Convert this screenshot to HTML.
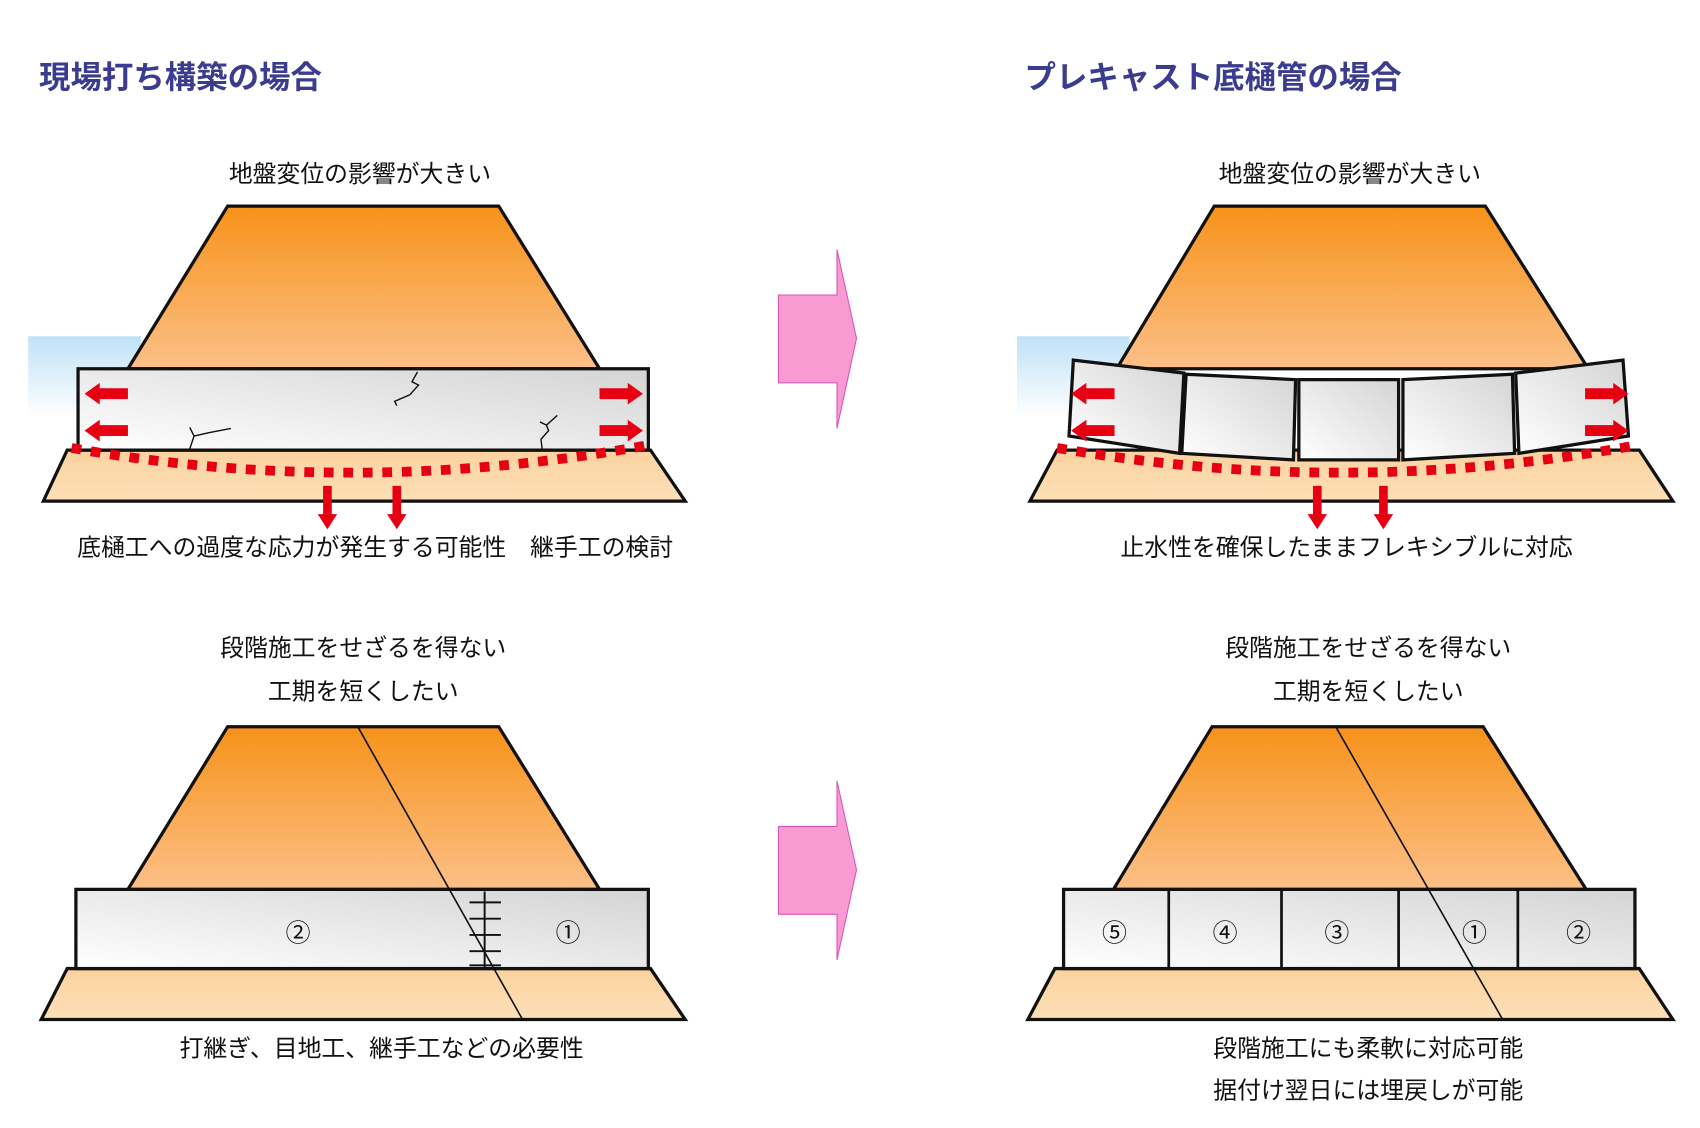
<!DOCTYPE html>
<html><head><meta charset="utf-8"><style>
html,body{margin:0;padding:0;background:#fff;}
svg{display:block;}
text{font-family:"Liberation Sans","Noto Sans CJK JP",sans-serif;}
</style></head><body>
<svg width="1700" height="1128" viewBox="0 0 1568 1040" preserveAspectRatio="none" xmlns="http://www.w3.org/2000/svg">
<defs>
<linearGradient id="or" x1="0" y1="0" x2="0" y2="1"><stop offset="0" stop-color="#f7921a"/><stop offset="1" stop-color="#fcc088"/></linearGradient>
<linearGradient id="bs" x1="0" y1="0" x2="0" y2="1"><stop offset="0" stop-color="#fbd29e"/><stop offset="1" stop-color="#fde0b8"/></linearGradient>
<linearGradient id="bx" x1="0" y1="1" x2="1" y2="0"><stop offset="0" stop-color="#ffffff"/><stop offset="1" stop-color="#d4d4d4"/></linearGradient>
<linearGradient id="wt" x1="0" y1="0" x2="0" y2="1"><stop offset="0" stop-color="#bfe2f8"/><stop offset="1" stop-color="#ffffff"/></linearGradient>
<g id="ra"><polygon points="0,-5 -26,-5 -26,-10 -40,0 -26,10 -26,5 0,5" fill="#e60012"/></g>
<g id="da"><polygon points="-4,0 4,0 4,26 9,26 0,40 -9,26 -4,26" fill="#e60012"/></g>
<g id="pa"><polygon points="718,272 772,272 772,230 790,312 772,395 772,353 718,353" fill="#f99ad3" stroke="#d855b8" stroke-width="1"/></g>
</defs>

<g font-weight="bold" font-size="29" fill="#3b3b8f">
<text x="36" y="81">現場打ち構築の場合</text>
<text x="945" y="81">プレキャスト底樋管の場合</text>
</g>

<g font-size="22" fill="#111" text-anchor="middle">
<text x="332" y="168">地盤変位の影響が大きい</text>
<text x="1245" y="168">地盤変位の影響が大きい</text>
<text x="346" y="512">底樋工への過度な応力が発生する可能性　継手工の検討</text>
<text x="1242" y="512">止水性を確保したままフレキシブルに対応</text>
<text x="335" y="605">段階施工をせざるを得ない</text>
<text x="335" y="645">工期を短くしたい</text>
<text x="1262" y="605">段階施工をせざるを得ない</text>
<text x="1262" y="645">工期を短くしたい</text>
<text x="352" y="974">打継ぎ、目地工、継手工などの必要性</text>
<text x="1262" y="974">段階施工にも柔軟に対応可能</text>
<text x="1262" y="1013">据付け翌日には埋戻しが可能</text>
</g>

<!-- top left -->
<rect x="26" y="310" width="104" height="75" fill="url(#wt)"/>
<polygon points="210,190 460,190 553,340 118,340" fill="url(#or)" stroke="#111" stroke-width="3"/>
<polygon points="62,415 600,415 632,462 40,462" fill="url(#bs)" stroke="#111" stroke-width="3"/>
<rect x="72" y="340" width="526" height="75" fill="url(#bx)" stroke="#111" stroke-width="3"/>
<g fill="none" stroke="#111" stroke-width="1.3">
<path d="M385,343 L380,352 L386,355 L378,364 L364,370 L366,374"/>
<path d="M175,414 L179,402 L175,394 M179,402 L192,399 L213,395"/>
<path d="M500,414 L499,405 L506,397 L504,392 L514,383 M504,392 L498,389"/>
</g>
<path d="M66,413 Q330,460 600,410" fill="none" stroke="#e60012" stroke-width="9" stroke-dasharray="9,9"/>
<use href="#ra" x="118" y="363"/><use href="#ra" x="118" y="397"/>
<use href="#ra" transform="translate(553,363) scale(-1,1)"/><use href="#ra" transform="translate(553,397) scale(-1,1)"/>
<use href="#da" x="302" y="448"/><use href="#da" x="366" y="448"/>

<use href="#pa"/>
<use href="#pa" y="490"/>

<!-- top right -->
<rect x="938" y="310" width="104" height="75" fill="url(#wt)"/>
<polygon points="1120,190 1370,190 1465,340 1030,340" fill="url(#or)" stroke="#111" stroke-width="3"/>
<polygon points="975,415 1512,415 1543,462 950,462" fill="url(#bs)" stroke="#111" stroke-width="3"/>
<g fill="url(#bx)" stroke="#111" stroke-width="3">
<polygon points="990,332 1092,344 1088,418 986,402"/>
<polygon points="1094,345 1195,350 1193,424 1090,418"/>
<polygon points="1198,350 1290,350 1290,424 1198,424"/>
<polygon points="1294,350 1395,345 1397,418 1294,424"/>
<polygon points="1398,344 1497,332 1502,402 1401,418"/>
</g>
<path d="M975,413 Q1245,460 1512,410" fill="none" stroke="#e60012" stroke-width="9" stroke-dasharray="9,9"/>
<use href="#ra" x="1028" y="363"/><use href="#ra" x="1028" y="397"/>
<use href="#ra" transform="translate(1462,363) scale(-1,1)"/><use href="#ra" transform="translate(1462,397) scale(-1,1)"/>
<use href="#da" x="1215" y="448"/><use href="#da" x="1276" y="448"/>

<!-- bottom left -->
<polygon points="210,670 460,670 553,820 118,820" fill="url(#or)" stroke="#111" stroke-width="3"/>
<polygon points="62,893 600,893 632,940 38,940" fill="url(#bs)" stroke="#111" stroke-width="3"/>
<rect x="70" y="820" width="528" height="73" fill="url(#bx)" stroke="#111" stroke-width="3"/>
<line x1="330" y1="670" x2="482" y2="940" stroke="#111" stroke-width="1.5"/>
<g stroke="#111" stroke-width="1.8">
<line x1="447" y1="822" x2="447" y2="893"/>
<line x1="433" y1="832" x2="462" y2="832"/>
<line x1="433" y1="847" x2="462" y2="847"/>
<line x1="433" y1="862" x2="462" y2="862"/>
<line x1="433" y1="877" x2="462" y2="877"/>
<line x1="433" y1="890" x2="462" y2="890"/>
</g>
<g font-size="23" fill="#111" text-anchor="middle">
<text x="275" y="868">②</text><text x="524" y="868">①</text>
</g>

<!-- bottom right -->
<polygon points="1118,670 1368,670 1463,820 1027,820" fill="url(#or)" stroke="#111" stroke-width="3"/>
<polygon points="973,893 1512,893 1543,940 948,940" fill="url(#bs)" stroke="#111" stroke-width="3"/>
<rect x="981" y="820" width="527" height="73" fill="url(#bx)" stroke="#111" stroke-width="3"/>
<g stroke="#111" stroke-width="2.5">
<line x1="1078" y1="820" x2="1078" y2="893"/>
<line x1="1182" y1="820" x2="1182" y2="893"/>
<line x1="1290" y1="820" x2="1290" y2="893"/>
<line x1="1400" y1="820" x2="1400" y2="893"/>
</g>
<line x1="1232" y1="670" x2="1386" y2="940" stroke="#111" stroke-width="1.5"/>
<g font-size="23" fill="#111" text-anchor="middle">
<text x="1028" y="868">⑤</text><text x="1130" y="868">④</text><text x="1233" y="868">③</text><text x="1360" y="868">①</text><text x="1456" y="868">②</text>
</g>
</svg>
</body></html>
